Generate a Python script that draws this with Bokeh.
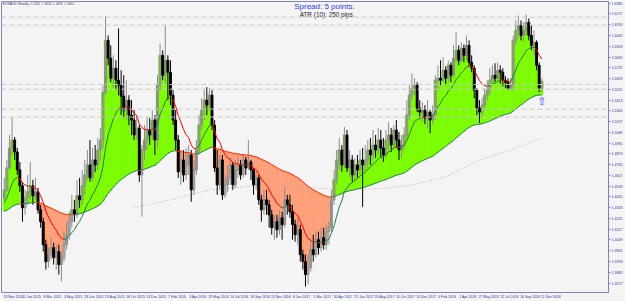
from bokeh.plotting import figure
from bokeh.models import Range1d, FixedTicker, Label, Span, PrintfTickFormatter
from bokeh.embed import file_html
from bokeh.resources import INLINE
from bokeh.core.properties import value

# ---------------- data (EURAUD weekly) ----------------
tick_bars = [0, 7, 15, 23, 31, 39, 47, 55, 63, 71, 79, 87, 95, 103, 111, 119,
             127, 135, 143, 151, 159, 167, 175, 183, 191, 199, 207]
tick_labels = ["23 Nov 2014", "11 Jan 2015", "8 Mar 2015", "3 May 2015", "28 Jun 2015",
               "23 Aug 2015", "18 Oct 2015", "13 Dec 2015", "7 Feb 2016", "3 Apr 2016",
               "29 May 2016", "24 Jul 2016", "18 Sep 2016", "13 Nov 2016", "8 Jan 2017",
               "5 Mar 2017", "30 Apr 2017", "25 Jun 2017", "20 Aug 2017", "15 Oct 2017",
               "10 Dec 2017", "4 Feb 2018", "1 Apr 2018", "27 May 2018", "22 Jul 2018",
               "16 Sep 2018", "11 Nov 2018"]

open_first = 1.4432
close = [
    1.4512, 1.4732, 1.4932, 1.5012, 1.4892, 1.4712, 1.4552, 1.4332, 1.4432, 1.4492,
    1.4552, 1.4452, 1.4492, 1.4312, 1.4192, 1.3962, 1.3792, 1.3862, 1.3932, 1.3832,
    1.3892, 1.3762, 1.3832, 1.3962, 1.4062, 1.4192, 1.4312, 1.4262, 1.4452, 1.4412,
    1.4552, 1.4662, 1.4762, 1.4632, 1.4812, 1.4762, 1.4912, 1.5012, 1.5492, 1.6012,
    1.5832, 1.5632, 1.5732, 1.5612, 1.5562, 1.5452, 1.5312, 1.5412, 1.5262, 1.5212,
    1.5062, 1.5132, 1.4662, 1.4912, 1.5012, 1.5112, 1.5062, 1.5212, 1.5012, 1.5562,
    1.5862, 1.5662, 1.5812, 1.5692, 1.5462, 1.5212, 1.5012, 1.4692, 1.4812, 1.4662,
    1.4762, 1.4862, 1.4512, 1.4712, 1.4912, 1.5162, 1.5312, 1.5412, 1.5362, 1.5462,
    1.5162, 1.4732, 1.4562, 1.4812, 1.4462, 1.4562, 1.4632, 1.4762, 1.4562, 1.4712,
    1.4762, 1.4662, 1.4812, 1.4732, 1.4792, 1.4712, 1.4562, 1.4632, 1.4412, 1.4312,
    1.4412, 1.4362, 1.4262, 1.4132, 1.4192, 1.4112, 1.4232, 1.4162, 1.4412, 1.4362,
    1.4292, 1.4162, 1.4062, 1.4112, 1.3862, 1.3792, 1.3662, 1.3732, 1.3912, 1.3862,
    1.4012, 1.3932, 1.4032, 1.3962, 1.4092, 1.4132, 1.4412, 1.4612, 1.4812, 1.4912,
    1.4762, 1.5062, 1.4732, 1.4812, 1.4662, 1.4762, 1.4712, 1.4812, 1.4762, 1.4812,
    1.4912, 1.4862, 1.4962, 1.4912, 1.5012, 1.4932, 1.4862, 1.5012, 1.5062, 1.4962,
    1.5112, 1.5012, 1.4912, 1.4962, 1.5062, 1.5262, 1.5462, 1.5532, 1.5562, 1.5332,
    1.5292, 1.5312, 1.5232, 1.5292, 1.5212, 1.5262, 1.5612, 1.5632, 1.5612, 1.5712,
    1.5632, 1.5762, 1.5662, 1.5832, 1.5912, 1.5812, 1.5932, 1.5862, 1.5962, 1.5792,
    1.5732, 1.5512, 1.5332, 1.5292, 1.5362, 1.5462, 1.5512, 1.5612, 1.5662, 1.5632,
    1.5712, 1.5692, 1.5612, 1.5592, 1.5532, 1.5562, 1.6012, 1.6112, 1.6162, 1.6062,
    1.6112, 1.6192, 1.6062, 1.5962, 1.5992, 1.5762, 1.5532, 1.5602]
high = [
    1.4632, 1.4812, 1.5062, 1.5242, 1.5042, 1.4932, 1.4792, 1.4592, 1.4512, 1.4662,
    1.4792, 1.4612, 1.4632, 1.4532, 1.4362, 1.4232, 1.4012, 1.3932, 1.4032, 1.3982,
    1.3962, 1.3962, 1.3892, 1.4092, 1.4192, 1.4292, 1.4462, 1.4412, 1.4612, 1.4632,
    1.4712, 1.4812, 1.4912, 1.5012, 1.4932, 1.4962, 1.5032, 1.5132, 1.5562, 1.6252,
    1.6062, 1.5962, 1.5862, 1.5812, 1.6132, 1.5712, 1.5662, 1.5612, 1.5462, 1.5412,
    1.5312, 1.5262, 1.5162, 1.4962, 1.5162, 1.5242, 1.5232, 1.5312, 1.5262, 1.5662,
    1.5982, 1.5912, 1.6162, 1.5862, 1.5812, 1.5512, 1.5312, 1.5062, 1.4912, 1.4912,
    1.4932, 1.4962, 1.4912, 1.4812, 1.5012, 1.5262, 1.5432, 1.5512, 1.5542, 1.5532,
    1.5512, 1.5212, 1.4912, 1.4862, 1.4862, 1.4662, 1.4762, 1.4832, 1.4792, 1.4812,
    1.4842, 1.4812, 1.4862, 1.4842, 1.5012, 1.4812, 1.4732, 1.4692, 1.4662, 1.4462,
    1.4512, 1.4512, 1.4412, 1.4312, 1.4262, 1.4262, 1.4312, 1.4292, 1.4542, 1.4462,
    1.4462, 1.4362, 1.4212, 1.4232, 1.4162, 1.3912, 1.3862, 1.3862, 1.4012, 1.4062,
    1.4092, 1.4092, 1.4132, 1.4132, 1.4162, 1.4192, 1.4512, 1.4712, 1.4912, 1.5032,
    1.4962, 1.5142, 1.5112, 1.4912, 1.4862, 1.4832, 1.4862, 1.4912, 1.4932, 1.4962,
    1.5012, 1.5032, 1.5112, 1.5062, 1.5132, 1.5112, 1.5032, 1.5112, 1.5192, 1.5132,
    1.5162, 1.5212, 1.5092, 1.5062, 1.5142, 1.5412, 1.5562, 1.5682, 1.5632, 1.5592,
    1.5412, 1.5392, 1.5362, 1.5412, 1.5312, 1.5362, 1.5662, 1.5762, 1.5812, 1.5842,
    1.5752, 1.5812, 1.5792, 1.5962, 1.6092, 1.5962, 1.5992, 1.5972, 1.6062, 1.6012,
    1.5862, 1.5762, 1.5532, 1.5412, 1.5432, 1.5532, 1.5612, 1.5732, 1.5762, 1.5782,
    1.5792, 1.5762, 1.5732, 1.5652, 1.5632, 1.5632, 1.6062, 1.6212, 1.6262, 1.6212,
    1.6192, 1.6272, 1.6232, 1.6162, 1.6112, 1.6012, 1.5792, 1.5632]
low = [
    1.4412, 1.4492, 1.4712, 1.4862, 1.4812, 1.4662, 1.4492, 1.4192, 1.4262, 1.4362,
    1.4412, 1.4362, 1.4412, 1.4272, 1.4132, 1.3892, 1.3712, 1.3732, 1.3812, 1.3762,
    1.3712, 1.3662, 1.3592, 1.3792, 1.3912, 1.4012, 1.4132, 1.4192, 1.4232, 1.4332,
    1.4362, 1.4462, 1.4612, 1.4592, 1.4592, 1.4692, 1.4712, 1.4812, 1.4932, 1.5462,
    1.5762, 1.5592, 1.5532, 1.5512, 1.5462, 1.5262, 1.5232, 1.5212, 1.5162, 1.5062,
    1.5012, 1.5012, 1.4592, 1.4242, 1.4812, 1.4912, 1.4962, 1.5012, 1.4862, 1.4932,
    1.5512, 1.5612, 1.5562, 1.5412, 1.5362, 1.5162, 1.4912, 1.4632, 1.4562, 1.4592,
    1.4612, 1.4662, 1.4392, 1.4462, 1.4662, 1.4862, 1.5112, 1.5212, 1.5262, 1.5312,
    1.5112, 1.4692, 1.4462, 1.4512, 1.4412, 1.4432, 1.4492, 1.4562, 1.4512, 1.4532,
    1.4632, 1.4612, 1.4632, 1.4662, 1.4712, 1.4612, 1.4462, 1.4512, 1.4362, 1.4192,
    1.4262, 1.4262, 1.4132, 1.4062, 1.4012, 1.4032, 1.4062, 1.4012, 1.4132, 1.4262,
    1.4232, 1.4012, 1.3992, 1.3962, 1.3792, 1.3712, 1.3542, 1.3562, 1.3692, 1.3792,
    1.3832, 1.3862, 1.3892, 1.3912, 1.3912, 1.3962, 1.4092, 1.4362, 1.4562, 1.4712,
    1.4692, 1.4732, 1.4692, 1.4632, 1.4592, 1.4612, 1.4632, 1.4662, 1.4342, 1.4692,
    1.4732, 1.4762, 1.4812, 1.4832, 1.4862, 1.4832, 1.4792, 1.4832, 1.4912, 1.4892,
    1.4912, 1.4932, 1.4812, 1.4832, 1.4912, 1.5032, 1.5212, 1.5412, 1.5462, 1.5292,
    1.5232, 1.5192, 1.5172, 1.5132, 1.5082, 1.5162, 1.5212, 1.5512, 1.5562, 1.5592,
    1.5562, 1.5592, 1.5592, 1.5632, 1.5792, 1.5762, 1.5792, 1.5792, 1.5812, 1.5752,
    1.5692, 1.5432, 1.5262, 1.5182, 1.5232, 1.5312, 1.5412, 1.5462, 1.5562, 1.5592,
    1.5592, 1.5562, 1.5552, 1.5532, 1.5512, 1.5512, 1.5512, 1.5962, 1.6032, 1.6012,
    1.5992, 1.6062, 1.6012, 1.5912, 1.5862, 1.5712, 1.5492, 1.5492]

# moving averages: EMA seeds read at the first bar
SLOW_PERIOD = 75
FAST_PERIOD = 13
slow_seed = 1.4292
fast_seed = 1.4362

# long (200) average, dotted grey, read at these bars
ma200_bar = [50, 64, 79, 101, 114, 126, 144, 157, 170, 183, 195, 207]
ma200_val = [1.4332, 1.4412, 1.4512, 1.4562, 1.4542, 1.4522, 1.4522, 1.4562,
             1.4642, 1.4812, 1.4912, 1.5032]

# horizontal dashed levels
levels = [1.6245, 1.6165, 1.5569, 1.5522, 1.5322, 1.5242]

# price axis labels
ytick_top = 1.6385
ytick_step = 0.0108
ytick_count = 28

# ---------------- derived ----------------
n = len(close)
bars = list(range(n))
opens = [open_first] + close[:-1]


def ema(vals, period, seed):
    a = 2.0 / (period + 1)
    out = []
    prev = seed
    for v in vals:
        prev = prev + a * (v - prev)
        out.append(prev)
    return out


slow = ema(close, SLOW_PERIOD, slow_seed)
fast = ema(close, FAST_PERIOD, fast_seed)

FONT = "Liberation Sans"
AXIS_COL = "#7F7FC8"

p = figure(width=625, height=301, output_backend="svg", toolbar_location=None,
           x_range=Range1d(-1.075, 232.7), y_range=Range1d(1.3482, 1.6402),
           y_axis_location="right",
           min_border_left=1, min_border_top=1, min_border_right=14, min_border_bottom=8,
           background_fill_color="#F4F4F4", border_fill_color="#F4F4F4",
           outline_line_color=AXIS_COL, outline_line_width=1)
p.xgrid.visible = False
p.ygrid.visible = False

# histogram fill between close and slow average
f_top = [max(c, s) for c, s in zip(close, slow)]
f_bot = [min(c, s) for c, s in zip(close, slow)]
f_col = ["#7CFC00" if c > s else "#FFA07A" for c, s in zip(close, slow)]
p.vbar(x=bars, width=1.0, top=f_top, bottom=f_bot, fill_color=f_col,
       line_color=f_col, line_width=0.6)

# long average (dotted)
p.line(ma200_bar, ma200_val, line_color="#B0B0B0", line_dash="1 2", line_width=1)

# candles
is_bull = [c >= o for o, c in zip(opens, close)]
wick_col = ["#8C8C8C" if b else "#000000" for b in is_bull]
p.segment(x0=bars, y0=low, x1=bars, y1=high, line_color=wick_col, line_width=1)
bx = [i for i in bars if is_bull[i]]
p.vbar(x=bx, width=0.72, top=[close[i] for i in bx], bottom=[opens[i] for i in bx],
       fill_alpha=0, line_color="#8C8C8C", line_width=1)
sx = [i for i in bars if not is_bull[i]]
p.vbar(x=sx, width=0.72, top=[opens[i] for i in sx], bottom=[close[i] for i in sx],
       fill_color="#000000", line_color="#000000", line_width=1)

# slow and fast averages, coloured by direction
s_col = ["#2E7F6A" if slow[i] > slow[i - 1] else "#FF2A00" for i in range(1, n)]
p.segment(x0=bars[:-1], y0=slow[:-1], x1=bars[1:], y1=slow[1:], line_color=s_col, line_width=1)
q_col = ["#1F7F40" if fast[i] > fast[i - 1] else "#FF0000" for i in range(1, n)]
p.segment(x0=bars[:-1], y0=fast[:-1], x1=bars[1:], y1=fast[1:], line_color=q_col, line_width=1)

# horizontal levels
for lv in levels:
    p.add_layout(Span(location=lv, dimension="width", line_color="#C8C8C8",
                      line_dash="5 3", line_width=1))

# texts
p.text(x=[123.3], y=[1.6392], text=["Spread: 5 points."], text_font=value(FONT),
       text_font_size="8px", text_color="#2E3BF0", text_align="center", text_baseline="top")
p.text(x=[124.0], y=[1.6304], text=["ATR (10): 250 pips"], text_font=value(FONT),
       text_font_size="6.4px", text_color="#1A1A1A", text_align="center", text_baseline="top")
p.text(x=[207], y=[1.5402], text=["\u21e7"], text_font=value("DejaVu Sans"),
       text_font_size="11px", text_color="#3A3AF5", text_align="center", text_baseline="middle")

hdr = "EURAUD,Weekly  %.4f %.4f %.4f %.4f" % (opens[-1], high[-1], low[-1], close[-1])
p.add_layout(Label(x=-0.6, y=1.6399, text=hdr, text_font=FONT, text_font_size="3.4px",
                   text_color="#202050", text_baseline="top", text_align="left",
                   background_fill_color="#FFFFFF"))

# right-axis price boxes
for lv in levels:
    p.add_layout(Label(x=233.0, y=lv, text="%.4f" % lv, text_font=FONT, text_font_size="3.6px",
                       text_color="#FFFFFF", text_baseline="middle", text_align="left",
                       x_offset=1.5, background_fill_color="#C4C4C4"))
p.add_layout(Label(x=233.0, y=close[-1], text="%.4f" % close[-1], text_font=FONT,
                   text_font_size="3.6px", text_color="#FFFFFF", text_baseline="middle",
                   text_align="left", x_offset=1.5, background_fill_color="#1E1EC8"))

# axes
xt = [b + 3.5 for b in tick_bars]
p.xaxis.ticker = FixedTicker(ticks=xt)
p.xaxis.major_label_overrides = {t: lab for t, lab in zip(xt, tick_labels)}
p.xaxis.major_label_text_font = FONT
p.xaxis.major_label_text_font_size = "3.5px"
p.xaxis.major_label_text_color = "#333399"
p.xaxis.major_label_standoff = 2
p.xaxis.major_tick_out = 0
p.xaxis.major_tick_in = 0
p.xaxis.minor_tick_out = 0
p.xaxis.minor_tick_in = 0
p.xaxis.axis_line_color = AXIS_COL

yt = [round(ytick_top - k * ytick_step, 4) for k in range(ytick_count)]
p.yaxis.ticker = FixedTicker(ticks=yt)
p.yaxis.formatter = PrintfTickFormatter(format="%.4f")
p.yaxis.major_label_text_font = FONT
p.yaxis.major_label_text_font_size = "3.6px"
p.yaxis.major_label_text_color = "#333399"
p.yaxis.major_label_standoff = 1
p.yaxis.major_tick_out = 2
p.yaxis.major_tick_in = 0
p.yaxis.minor_tick_out = 0
p.yaxis.minor_tick_in = 0
p.yaxis.axis_line_color = AXIS_COL
p.yaxis.major_tick_line_color = AXIS_COL

open("out.html", "w").write(file_html(p, INLINE))
